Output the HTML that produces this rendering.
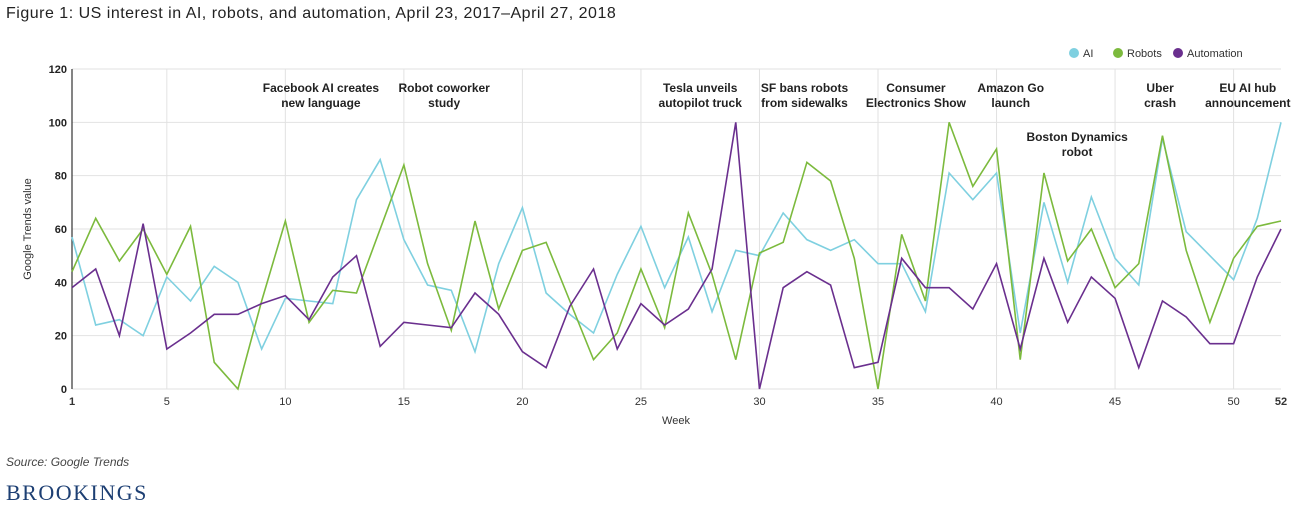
<!DOCTYPE html>
<html><head><meta charset="utf-8"><style>
body{margin:0;width:1296px;height:510px;background:#fff;font-family:"Liberation Sans",sans-serif;overflow:hidden;position:relative}
.t{position:absolute;white-space:nowrap}
</style></head><body>
<div class="t" style="left:6px;top:5px;font-size:16px;letter-spacing:0.5px;color:#222">Figure 1: US interest in AI, robots, and automation, April 23, 2017–April 27, 2018</div>
<svg id="c" width="1296" height="510" style="position:absolute;left:0;top:0"></svg>
<div class="t" style="left:6px;top:455px;font-size:12px;font-style:italic;color:#444">Source: Google Trends</div>
<div class="t" style="left:6px;top:480px;font-family:'Liberation Serif',serif;font-size:22px;color:#1d3f73;letter-spacing:1.5px">BROOKINGS</div>
<script>
const weeks=[];for(let i=1;i<=52;i++)weeks.push(i);
const aiValues=[57,24,26,20,42,33,46,40,15,34,33,32,71,86,56,39,37,14,47,68,36,28,21,43,61,38,57,29,52,50,66,56,52,56,47,47,29,81,71,81,21,70,40,72,49,39,94,59,50,41,64,100];
const robotsValues=[44,64,48,60,43,61,10,0,33,63,25,37,36,60,84,47,22,63,30,52,55,33,11,21,45,23,66,43,11,51,55,85,78,49,0,58,33,100,76,90,11,81,48,60,38,47,95,52,25,49,61,63];
const automationValues=[38,45,20,62,15,21,28,28,32,35,26,42,50,16,25,24,23,36,28,14,8,31,45,15,32,24,30,45,100,0,38,44,39,8,10,49,38,38,30,47,15,49,25,42,34,8,33,27,17,17,42,60];
const yTicks=[0,20,40,60,80,100,120];
const xTicks=[1,5,10,15,20,25,30,35,40,45,50,52];
const annotations=[["Facebook AI creates","new language",11.5,0],["Robot coworker","study",16.7,0],["Tesla unveils","autopilot truck",27.5,0],["SF bans robots","from sidewalks",31.9,0],["Consumer","Electronics Show",36.6,0],["Amazon Go","launch",40.6,0],["Boston Dynamics","robot",43.4,1],["Uber","crash",46.9,0],["EU AI hub","announcement",50.6,0]];
const X=w=>72+(w-1)*(1281-72)/51, Y=v=>389-v*(320/120);
const svg=document.getElementById('c'),NS='http://www.w3.org/2000/svg';
function el(t,a,p){const e=document.createElementNS(NS,t);for(const k in a)e.setAttribute(k,a[k]);(p||svg).appendChild(e);return e;}
yTicks.forEach(v=>{const l=el('line',{x1:72,x2:1281,y1:Y(v),y2:Y(v),stroke:'#e2e2e2'});


const t=el('text',{x:67,y:Y(v)+4,'text-anchor':'end','font-size':11,'font-weight':'bold',fill:'#222'});t.textContent=v;

});
xTicks.forEach(w=>{if(w!==1&&w!==52){const l=el('line',{x1:X(w),x2:X(w),y1:69,y2:389,stroke:'#e2e2e2'});

}
const t=el('text',{x:X(w),y:405,'text-anchor':'middle','font-size':11,'font-weight':(w===1||w===52)?'bold':'normal',fill:'#333'});t.textContent=w;

});
const ax=el('line',{x1:72,x2:72,y1:69,y2:389,stroke:'#333','stroke-width':1.2});


const xt=el('text',{x:676,y:424,'text-anchor':'middle','font-size':11,fill:'#333'});xt.textContent='Week';


const yt=el('text',{x:31,y:229,'text-anchor':'middle','font-size':11,fill:'#333',transform:'rotate(-90 31 229)'});yt.textContent='Google Trends value';


annotations.forEach(a=>{const y0=a[3]?141:92;[a[0],a[1]].forEach((s,i)=>{const t=el('text',{x:X(a[2]),y:y0+i*15,'text-anchor':'middle','font-size':12,'font-weight':'bold',fill:'#222'});t.textContent=s;

});});
const series=[["AI",aiValues,'#7fd0e0'],["Robots",robotsValues,'#7cba3d'],["Automation",automationValues,'#6a2f8e']];
series.forEach(s=>{const p=el('polyline',{points:s[1].map((v,i)=>X(weeks[i])+','+Y(v)).join(' '),fill:'none',stroke:s[2],'stroke-width':1.6});

});
const lx=[1074,1118,1178];
series.forEach((s,i)=>{const g=el('g',{});


el('circle',{cx:lx[i],cy:53,r:5,fill:s[2]},g);const t=el('text',{x:lx[i]+9,y:57,'font-size':11,fill:'#333'},g);t.textContent=s[0];});
</script>
</body></html>
